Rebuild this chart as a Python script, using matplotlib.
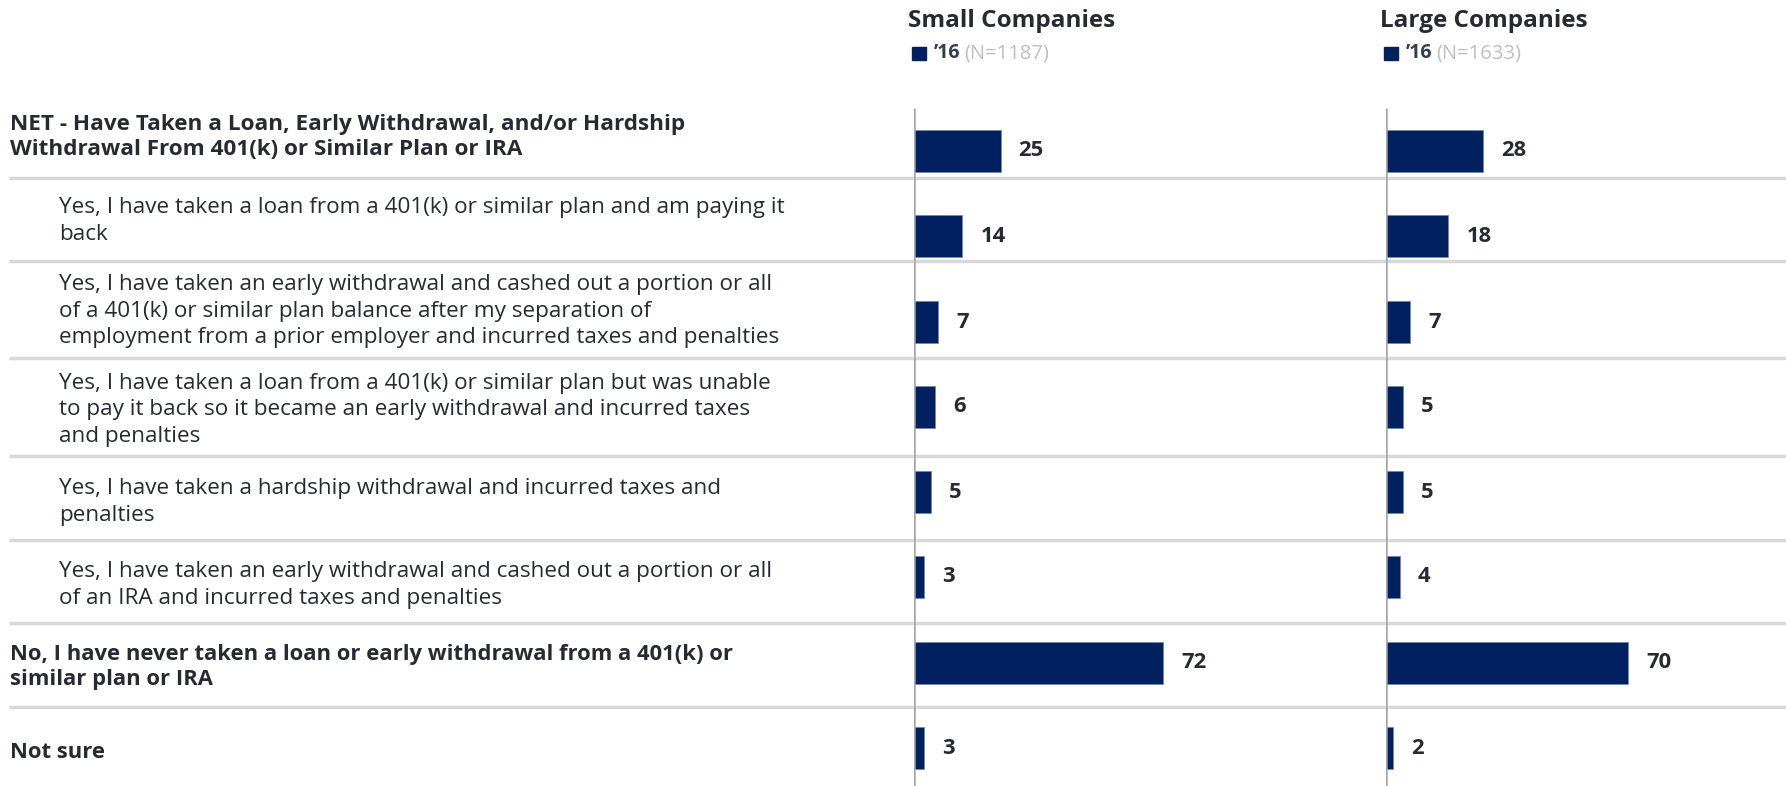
import numpy as np
import matplotlib
matplotlib.use('Agg')
import matplotlib.pyplot as plt
from matplotlib.patches import Rectangle

plt.rcParams['font.family'] = ['Open Sans', 'DejaVu Sans']

# data
labels = [
    'NET - Have Taken a Loan, Early Withdrawal, and/or Hardship\nWithdrawal From 401(k) or Similar Plan or IRA',
    'Yes, I have taken a loan from a 401(k) or similar plan and am paying it\nback',
    'Yes, I have taken an early withdrawal and cashed out a portion or all\nof a 401(k) or similar plan balance after my separation of\nemployment from a prior employer and incurred taxes and penalties',
    'Yes, I have taken a loan from a 401(k) or similar plan but was unable\nto pay it back so it became an early withdrawal and incurred taxes\nand penalties',
    'Yes, I have taken a hardship withdrawal and incurred taxes and\npenalties',
    'Yes, I have taken an early withdrawal and cashed out a portion or all\nof an IRA and incurred taxes and penalties',
    'No, I have never taken a loan or early withdrawal from a 401(k) or\nsimilar plan or IRA',
    'Not sure',
]
bold_rows = [True, False, False, False, False, False, True, True]
small_co = [25, 14, 7, 6, 5, 3, 72, 3]
large_co = [28, 18, 7, 5, 5, 4, 70, 2]
panel_titles = ['Small Companies', 'Large Companies']
panel_n = ['(N=1187)', '(N=1633)']
year_label = '\u201916'

# layout (pixels)
W, H = 1786, 786
bar_y = [151, 236, 322, 407, 492, 577, 663, 748]
text_y = [137, 221, 311, 410, 502, 585, 667, 752]
sep_y = [178, 261, 358, 456, 540, 623, 707]
panel_x = [914, 1386]
px_per_unit = 3.46

navy = '#002060'
txt = '#262a33'

fig = plt.figure(figsize=(W / 100, H / 100), dpi=100)
ax_bg = fig.add_axes([0, 0, 1, 1])
ax_bg.set_xlim(0, W)
ax_bg.set_ylim(H, 0)
ax_bg.axis('off')

ax_bg.hlines(sep_y, 9, W, color='#d9d9d9', lw=2.5, zorder=1)

for i, lab in enumerate(labels):
    if bold_rows[i]:
        fs = 16.2 if i == 0 else 15.8
        ax_bg.text(10, text_y[i], lab, fontsize=fs, fontweight='bold',
                   color=txt, va='center', ha='left', linespacing=1.22)
    else:
        ax_bg.text(59, text_y[i], lab, fontsize=16.2, color=txt,
                   va='center', ha='left', linespacing=1.32)

for k, (x0, vals) in enumerate(zip(panel_x, [small_co, large_co])):
    span = 380
    ax = fig.add_axes([x0 / W, 0, span / W, 1])
    ax.set_xlim(0, span / px_per_unit)
    ax.set_ylim(H, 0)
    ax.axis('off')
    ax.vlines(0, 108, H, color='#a6a6a6', lw=1.8, zorder=3)
    ax.barh(bar_y, vals, height=42, color=navy, edgecolor='#6f86b0', lw=0.5, zorder=2)
    for y, v in zip(bar_y, vals):
        ax.annotate(str(v), (v, y), xytext=(13, 0), textcoords='offset points',
                    fontsize=15.8, fontweight='bold', color=txt,
                    va='center', ha='left')

    # header
    ax_bg.text(x0 - 6, 21, panel_titles[k], fontsize=17.5, fontweight='bold',
               color=txt, va='center', ha='left')
    ax_bg.add_patch(Rectangle((x0 - 2, 47), 14, 13, color=navy))
    ax_bg.text(x0 + 20, 53, year_label, fontsize=14, fontweight='bold',
               color='#333f50', va='center', ha='left')
    ax_bg.text(x0 + 50, 53, panel_n[k], fontsize=14.5, color='#bfbfbf',
               va='center', ha='left')

fig.savefig('out.png', dpi=100, facecolor='white')
